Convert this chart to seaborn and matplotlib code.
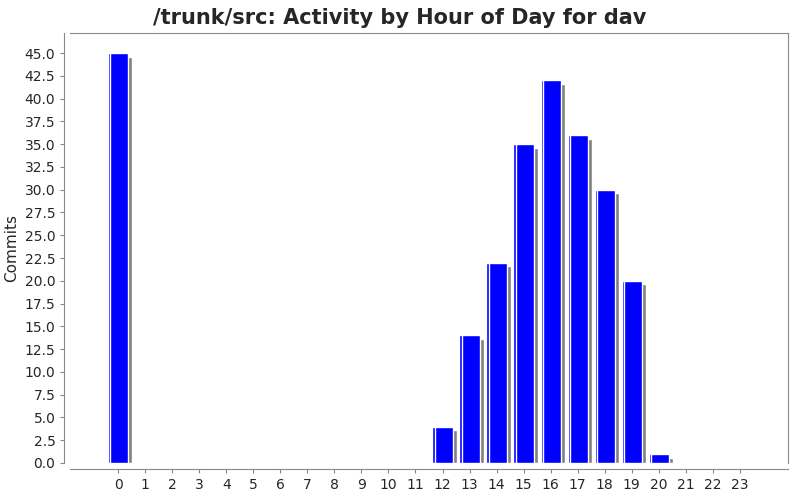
import matplotlib
matplotlib.use("Agg")
import matplotlib.pyplot as plt
import seaborn as sns
import numpy as np
import pandas as pd

hours = [str(h) for h in range(24)]
commits = [45, 0, 0, 0, 0, 0, 0, 0, 0, 0, 0, 0, 4, 14, 22, 35, 42, 36, 30, 20, 1, 0, 0, 0]
yticks = np.arange(0, 47.5, 2.5)

sns.set_style("white")
plt.rcParams['font.family'] = ['DejaVu Sans']

fig = plt.figure(figsize=(8, 5), dpi=100)
ax = fig.add_axes([0.0875, 0.074, 0.8975, 0.86])

df = pd.DataFrame({"hour": hours, "commits": commits})
x = np.arange(len(hours))
w = 0.75

# shadow bars
ax.bar(x + 0.15, np.clip(np.array(commits) - 0.4, 0, None), width=w, color="#808080", zorder=1)
sns.barplot(data=df, x="hour", y="commits", color="#0000ff", saturation=1, width=w, ax=ax, zorder=2)
# highlight on left edge
for xi, c in zip(x, commits):
    if c > 0:
        ax.plot([xi - w / 2 + 0.08] * 2, [0, c], color="white", lw=1, zorder=3)

ax.set_xlim(-1.78, 24.78)
ax.set_ylim(0, 47.2)
ax.set_yticks(yticks)
ax.set_yticklabels([f"{v:.1f}" for v in yticks], fontsize=9, color="#444444")
ax.set_xticks(x)
ax.set_xticklabels(hours, rotation=45, fontsize=9, color="#444444")
ax.set_xlabel("")
ax.set_ylabel("Commits", fontsize=11)
ax.tick_params(axis="both", length=3, color="#888888", left=True, bottom=True)

for s in ["top", "right"]:
    ax.spines[s].set_visible(True)
    ax.spines[s].set_color("#888888")
ax.spines["left"].set_position(("outward", 4))
ax.spines["bottom"].set_position(("outward", 4))
ax.spines["left"].set_color("#888888")
ax.spines["bottom"].set_color("#888888")

fig.suptitle("/trunk/src: Activity by Hour of Day for dav", fontsize=15, fontweight="bold", y=0.985)
fig.savefig("out.png", dpi=100)
